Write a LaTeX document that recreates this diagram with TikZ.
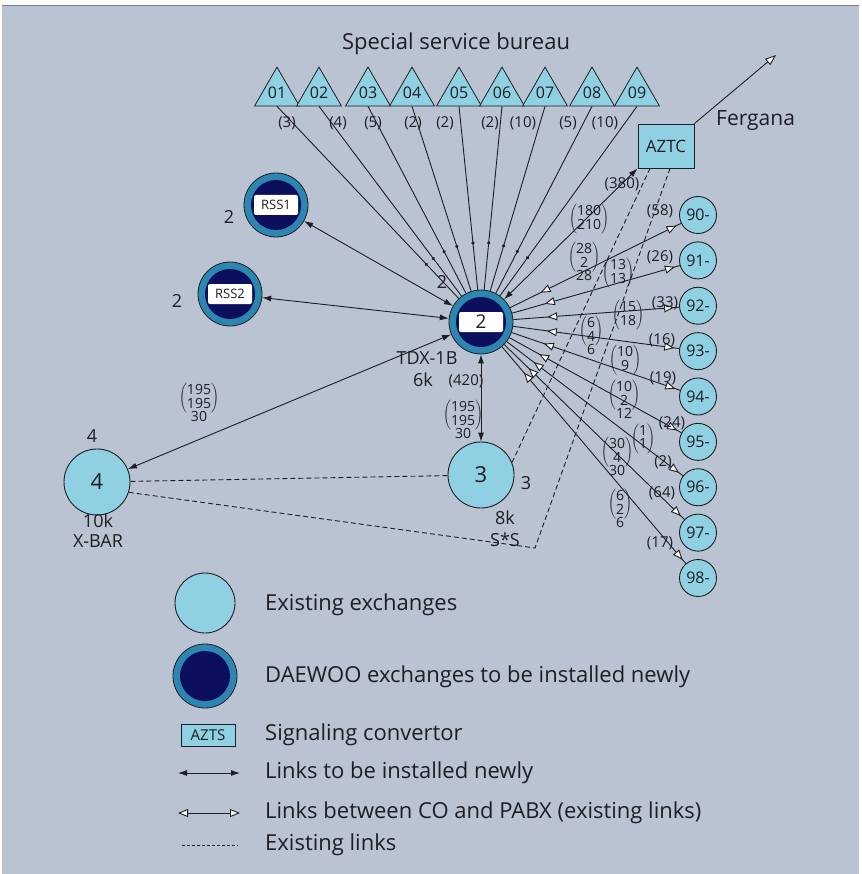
\documentclass[tikz,border=0pt]{standalone}
\usepackage{fontspec}
\setmainfont{Open Sans}
\usetikzlibrary{arrows.meta,shapes.geometric,decorations.markings,calc}
\definecolor{panel}{HTML}{B9C3D1}
\definecolor{lcyan}{HTML}{8FD1E3}
\definecolor{ringc}{HTML}{2C86B0}
\definecolor{navyc}{HTML}{0C0E5E}
\definecolor{ink}{HTML}{1E1E24}
\newcommand{\duo}[2]{$\left(\begin{tabular}{@{}c@{}}#1\\#2\end{tabular}\right)$}
\newcommand{\trio}[3]{\begin{tabular}{@{}c@{}}\duo{#1}{#2}\\[-2pt]#3\end{tabular}}
\begin{document}
\begin{tikzpicture}[x=1pt,y=-1pt,
  every node/.style={text=ink},
  lab/.style={font=\fontsize{15}{16}\selectfont, inner sep=0pt},
  stk/.style={font=\fontsize{14}{13}\selectfont, inner sep=0pt},
  txt/.style={font=\fontsize{18}{20}\selectfont, inner sep=0pt},
  leg/.style={font=\fontsize{22}{24}\selectfont, inner sep=0pt, anchor=west},
  exist/.style={circle, fill=lcyan, draw=ink, line width=0.9pt, inner sep=0pt},
  bigex/.style={exist, minimum size=66pt, font=\fontsize{22}{24}\selectfont},
  pabx/.style={exist, minimum size=37pt, font=\fontsize{16}{17}\selectfont},
  daewoo/.style={circle, fill=ringc, draw=ink, line width=0.8pt, minimum size=64pt, inner sep=0pt,
    path picture={\fill[navyc] (path picture bounding box.center) circle (25pt);
      \fill[white, rounded corners=2pt] ($(path picture bounding box.center)+(-22pt,-10pt)$) rectangle ++(44pt,20pt);}},
  tri/.style={regular polygon, regular polygon sides=3, minimum size=48pt, inner sep=0pt,
    fill=lcyan, draw=ink, line width=0.8pt, font=\fontsize{16}{17}\selectfont},
  convbox/.style={rectangle, fill=lcyan, draw=ink, line width=0.9pt, inner sep=0pt},
  link/.style={draw=ink, color=ink, line width=0.9pt},
  newlink/.style={link, {Latex[length=9pt,width=6pt]}-{Latex[length=9pt,width=6pt]}},
  oldlink/.style={link, postaction={decorate}, decoration={markings,
    mark=at position 34pt with {\arrowreversed{Triangle[fill=white,length=10pt,width=8pt]}},
    mark=at position -5pt with {\arrow{Triangle[fill=white,length=10pt,width=8pt]}}}},
  trilink/.style={link, postaction={decorate}, decoration={markings,
    mark=at position -47pt with {\fill[ink] (0,0) circle (1.8pt);}}},
  exlink/.style={draw=ink, line width=0.9pt, dash pattern=on 5pt off 3pt}]
\useasboundingbox (0,0) rectangle (861,874);
\fill[white] (0,0) rectangle (861,874);
\fill[panel] (2,6) rectangle (859,874);
\draw[gray, line width=1pt] (2,6) -- (859,6);

% title
\node[font=\fontsize{22}{24}\selectfont, inner sep=0pt] (title) at (456,44) {Special service bureau};

% central exchanges
\node[daewoo, font=\fontsize{19}{20}\selectfont] (hub) at (481,322) {2};
\node[daewoo, font=\fontsize{13}{14}\selectfont] (rss1) at (276,205) {RSS1};
\node[daewoo, font=\fontsize{13}{14}\selectfont] (rss2) at (230,294) {RSS2};
\node[bigex] (n4) at (97,482) {4};
\node[bigex] (n3) at (481,475) {3};
\node[convbox, minimum width=56pt, minimum height=44pt, font=\fontsize{17}{18}\selectfont] (aztc) at (666,146) {AZTC};
\coordinate (ferg) at (776,55);
\coordinate (corner) at (535,548);

% special service triangles
\foreach \n/\x/\l/\lx in {01/277/3/287, 02/319/4/338, 03/368/5/373, 04/412/2/413, 05/459/2/445, 06/502/2/490, 07/545/10/523, 08/592/5/568, 09/637/10/605}{
  \node[tri] (t\n) at (\x,93) {\n};
  \node[lab] (lt\n) at (\lx,123) {(\l)};
  \draw[trilink] (t\n.south) -- (hub);
}

% PABX nodes
\foreach \n [count=\k from 0] in {90,91,92,93,94,95,96,97,98}{
  \node[pabx] (n\n) at (698,{215+45.375*\k}) {\n-};
  \draw[oldlink] (hub) -- (n\n);
}

% new links
\draw[newlink] (rss1) -- (hub);
\draw[newlink] (rss2) -- (hub);
\draw[newlink] (hub) -- (n4);
\draw[newlink] (hub) -- (n3);
\draw[newlink] (hub) -- (aztc.south west);
\draw[link, -{Triangle[fill=white,length=11pt,width=8pt]}] (aztc.north east) -- (ferg);

% existing links
\draw[exlink] (n4) -- (n3);
\draw[exlink] (n4.-18) -- (corner) -- (aztc.south -| 670,0);
\draw[exlink] (n3.22) -- (aztc.south -| 650,0);

% node labels
\node[txt] (l2a) at (229,217) {2};
\node[txt] (l2b) at (177,301) {2};
\node[txt] (l2c) at (442,282) {2};
\node[txt] (l4) at (92,436) {4};
\node[txt] (l10k) at (98,521) {10k};
\node[txt] (lxbar) at (98,541) {X-BAR};
\node[txt] (l3) at (526,483) {3};
\node[txt] (l8k) at (505,518) {8k};
\node[txt] (lss) at (505,540) {S*S};
\node[txt] (ltdx) at (427,358) {TDX-1B};
\node[txt] (l6k) at (423,380) {6k};
\node[font=\fontsize{21}{22}\selectfont, inner sep=0pt, anchor=west] (lferg) at (716,121) {Fergana};

% link labels
\node[lab] (l420) at (466,381) {(420)};
\node[stk] (s1) at (463,421) {\trio{195}{195}{30}};
\node[stk] (s2) at (199,404) {\trio{195}{195}{30}};
\node[lab] (l380) at (622,184) {(380)};
\node[stk] (s3) at (589,219) {\duo{180}{210}};
\node[lab] (l58) at (660,211) {(58)};
\node[stk] (s4) at (584,263) {\trio{28}{2}{28}};
\node[lab] (l26) at (660,257) {(26)};
\node[stk] (s5) at (618,273) {\duo{13}{13}};
\node[lab] (l33) at (665,303) {(33)};
\node[stk] (s6) at (628,315) {\duo{15}{18}};
\node[lab] (l16) at (662,340) {(16)};
\node[stk] (s7) at (591,337) {\trio{6}{4}{6}};
\node[lab] (l19) at (663,378) {(19)};
\node[stk] (s8) at (625,360) {\duo{10}{9}};
\node[lab] (l24) at (672,423) {(24)};
\node[stk] (s9) at (624,401) {\trio{10}{2}{12}};
\node[lab] (l2d) at (663,462) {(2)};
\node[stk] (s10) at (643,439) {\duo{1}{1}};
\node[lab] (l64) at (662,493) {(64)};
\node[stk] (s11) at (617,458) {\trio{30}{4}{30}};
\node[lab] (l17) at (660,543) {(17)};
\node[stk] (s12) at (620,510) {\trio{6}{2}{6}};

% legend
\node[exist, minimum size=60pt] (lg1) at (205,603) {};
\node[leg] (lt1) at (265,605) {Existing exchanges};
\node[circle, fill=ringc, draw=ink, line width=0.8pt, minimum size=64pt, inner sep=0pt,
  path picture={\fill[navyc] (path picture bounding box.center) circle (25pt);}] (lg2) at (205,676) {};
\node[leg] (lt2) at (265,677) {DAEWOO exchanges to be installed newly};
\node[convbox, minimum width=54pt, minimum height=22pt, font=\fontsize{15}{16}\selectfont] (lg3) at (208,735) {AZTS};
\node[leg] (lt3) at (265,735) {Signaling convertor};
\coordinate (a1) at (178,773); \coordinate (a2) at (240,773);
\draw[link, {Latex[length=9pt,width=6pt]}-{Latex[length=9pt,width=6pt]}] (a1) -- (a2);
\node[leg] (lt4) at (265,773) {Links to be installed newly};
\coordinate (b1) at (178,813); \coordinate (b2) at (240,813);
\draw[link, {Triangle[fill=white,length=10pt,width=8pt]}-{Triangle[fill=white,length=10pt,width=8pt]}] (b1) -- (b2);
\node[leg] (lt5) at (265,813) {Links between CO and PABX (existing links)};
\coordinate (c1) at (182,845); \coordinate (c2) at (238,845);
\draw[draw=ink, line width=0.8pt, dash pattern=on 3pt off 2pt] (c1) -- (c2);
\node[leg] (lt6) at (265,845) {Existing links};
\end{tikzpicture}
\end{document}
